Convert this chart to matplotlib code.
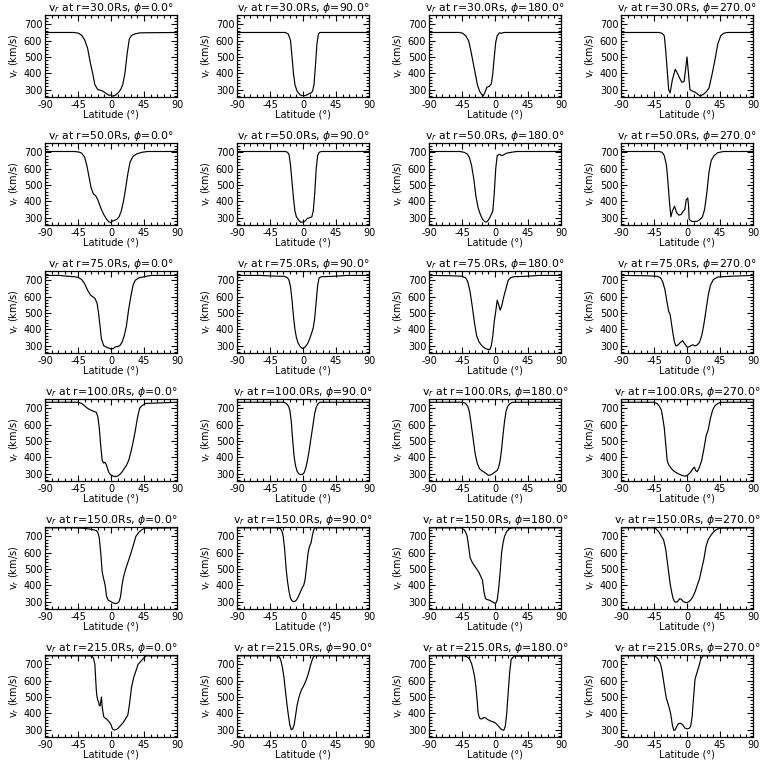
import matplotlib
matplotlib.use("Agg")
import matplotlib.pyplot as plt
from matplotlib.ticker import AutoMinorLocator

radii = [30.0, 50.0, 75.0, 100.0, 150.0, 215.0]
phis = [0.0, 90.0, 180.0, 270.0]
x_ticks = [-90, -45, 0, 45, 90]
y_ticks = [300, 400, 500, 600, 700]
y_range = [255, 757]

# r = 30 Rs
lat_r30_p0 = [-90,-50,-44,-40,-36,-32,-28,-25,-22,-18,-12,-7,-3,0,2,6,10,13,16,19,22,25,28,33,40,90]
v_r30_p0 = [650,650,645,632,605,555,460,400,330,300,293,278,265,268,260,265,282,300,330,400,520,610,632,642,648,650]
lat_r30_p90 = [-90,-24,-20,-17,-15,-13,-11,-8,-4,0,4,8,11,13,15,17,19,21,23,26,90]
v_r30_p90 = [650,650,640,600,500,400,330,290,268,262,265,275,280,290,330,450,580,640,650,650,650]
lat_r30_p180 = [-90,-48,-44,-40,-36,-33,-30,-27,-24,-21,-18,-16,-14,-11,-8,-5,-3,-1,1,3,6,9,12,15,90]
v_r30_p180 = [650,650,645,630,600,540,470,400,330,290,270,262,280,315,320,335,400,500,590,630,648,645,650,650,650]
lat_r30_p270 = [-90,-38,-34,-31,-29,-27,-25,-23,-20,-16,-13,-10,-7,-4,-2,0,2,4,7,11,15,18,22,26,30,34,38,42,46,50,55,90]
v_r30_p270 = [650,650,645,630,540,420,300,280,360,425,400,370,345,350,420,500,400,300,292,285,270,262,270,285,310,390,480,580,630,645,650,650]

# r = 50 Rs
lat_r50_p0 = [-90,-50,-44,-40,-36,-33,-30,-27,-24,-21,-18,-14,-10,-6,-3,0,2,5,8,11,14,17,20,23,26,30,35,42,50,90]
v_r50_p0 = [705,705,702,695,670,620,550,480,445,435,410,360,320,290,275,268,280,283,290,305,340,400,480,570,640,675,690,700,705,705]
lat_r50_p90 = [-90,-24,-21,-19,-17,-15,-13,-11,-9,-6,-3,0,3,6,9,12,14,16,18,20,22,25,90]
v_r50_p90 = [705,705,700,685,620,520,420,340,305,285,272,272,280,295,300,305,340,450,600,680,700,705,705]
lat_r50_p180 = [-90,-48,-42,-38,-35,-32,-29,-26,-23,-20,-17,-14,-12,-9,-6,-3,-1,1,3,6,9,12,16,22,30,90]
v_r50_p180 = [705,705,700,690,670,620,540,430,360,320,290,275,272,285,310,340,450,600,680,688,680,685,695,700,705,705]
lat_r50_p270 = [-90,-38,-34,-31,-28,-26,-24,-22,-20,-17,-14,-11,-8,-5,-3,-1,1,2,3,6,10,14,18,21,24,27,30,33,37,42,50,90]
v_r50_p270 = [705,705,700,680,620,520,400,305,340,370,330,315,320,340,350,410,420,380,290,278,276,278,290,305,350,450,580,650,680,698,705,705]

# r = 75 Rs
lat_r75_p0 = [-90,-70,-60,-50,-45,-40,-36,-32,-28,-25,-22,-19,-17,-15,-13,-10,-6,-3,0,3,6,9,12,15,18,21,24,27,30,33,38,45,55,90]
v_r75_p0 = [730,730,725,722,718,705,680,640,610,600,590,560,500,420,340,300,290,285,280,282,293,295,300,320,360,420,520,600,670,700,715,722,730,730]
lat_r75_p90 = [-90,-60,-40,-25,-21,-19,-17,-15,-13,-11,-9,-7,-4,-1,1,3,6,9,12,14,16,18,20,22,25,40,60,90]
v_r75_p90 = [730,730,726,724,715,700,660,580,480,400,350,320,295,283,285,292,310,340,380,410,470,570,670,715,722,724,730,730]
lat_r75_p180 = [-90,-60,-45,-40,-37,-34,-31,-28,-25,-22,-19,-16,-13,-10,-7,-5,-3,-1,1,3,5,7,9,12,15,18,21,25,40,60,90]
v_r75_p180 = [730,728,725,715,690,630,540,440,360,325,305,292,282,278,276,300,360,450,510,578,550,518,540,600,650,700,715,722,724,730,730]
lat_r75_p270 = [-90,-55,-40,-36,-33,-30,-27,-25,-23,-21,-19,-17,-15,-12,-9,-6,-3,0,3,5,8,11,14,17,20,23,26,29,32,36,42,60,90]
v_r75_p270 = [730,728,724,715,690,640,560,510,490,430,370,320,298,305,320,330,310,292,292,300,305,298,305,320,360,430,520,610,670,705,720,725,730]

# r = 100 Rs
lat_r100_p0 = [-90,-45,-40,-36,-32,-28,-24,-20,-18,-16,-14,-12,-10,-8,-6,-4,-2,0,3,6,9,12,15,18,21,24,27,30,33,36,39,42,47,90]
v_r100_p0 = [737,737,730,715,700,690,682,675,650,580,470,380,365,370,350,320,300,292,285,282,285,295,310,330,350,380,430,490,560,640,700,715,730,737]
lat_r100_p90 = [-90,-26,-23,-20,-18,-16,-14,-12,-10,-8,-6,-4,-2,0,2,4,6,8,10,12,14,16,18,20,23,90]
v_r100_p90 = [737,737,730,715,690,620,500,400,345,315,300,295,295,298,310,340,380,430,490,550,610,670,705,725,737,737]
lat_r100_p180 = [-90,-44,-40,-37,-35,-33,-30,-27,-24,-21,-18,-15,-12,-9,-6,-3,0,3,5,7,9,11,13,15,17,20,24,90]
v_r100_p180 = [737,737,730,710,680,620,520,420,360,330,318,310,300,290,292,300,310,320,340,380,450,540,620,680,710,728,737,737]
lat_r100_p270 = [-90,-45,-41,-38,-35,-33,-31,-29,-27,-25,-22,-19,-16,-13,-10,-7,-4,-1,2,5,8,10,12,14,17,20,23,26,29,32,35,38,42,47,90]
v_r100_p270 = [737,737,730,715,690,640,580,480,380,355,335,320,310,302,295,290,286,285,295,310,330,340,318,312,340,380,450,530,570,640,690,715,730,737,737]

# r = 150 Rs
lat_r150_p0 = [-90,-50,-40,-30,-24,-20,-18,-16,-14,-12,-10,-8,-6,-4,-2,0,3,6,9,11,13,15,17,20,23,26,30,34,38,42,46,90]
v_r150_p0 = [752,752,750,745,740,735,725,690,600,480,440,400,330,310,305,300,292,288,292,300,330,400,450,500,540,580,640,700,725,740,750,752]
lat_r150_p90 = [-90,-35,-31,-29,-27,-25,-23,-21,-19,-17,-15,-13,-11,-9,-7,-5,-3,-1,1,3,5,7,9,11,13,15,17,90]
v_r150_p90 = [752,752,748,735,700,620,500,420,360,320,305,300,302,310,325,345,365,385,400,440,520,600,640,660,710,745,752,752]
lat_r150_p180 = [-90,-46,-42,-40,-38,-36,-34,-31,-28,-25,-22,-19,-17,-15,-13,-10,-7,-4,-1,1,3,5,7,9,11,13,16,20,25,90]
v_r150_p180 = [752,752,740,725,700,640,570,540,520,500,480,450,430,360,318,312,308,300,292,290,310,380,480,600,660,700,730,748,752,752]
lat_r150_p270 = [-90,-46,-42,-38,-35,-32,-29,-27,-25,-23,-21,-19,-17,-14,-12,-10,-8,-5,-2,0,2,5,8,11,14,17,20,23,26,29,33,38,44,90]
v_r150_p270 = [752,752,745,725,700,680,620,550,480,410,360,320,300,296,305,318,315,300,295,295,298,310,330,360,400,440,500,560,640,680,710,735,750,752]

# r = 215 Rs
lat_r215_p0 = [-90,-30,-26,-24,-22,-21,-20,-19,-18,-17,-16,-15,-14,-13,-12,-10,-8,-6,-4,-2,0,2,4,7,10,13,16,19,21,23,25,28,31,34,37,41,45,48,90]
v_r215_p0 = [752,752,750,740,700,620,540,500,480,470,450,445,470,500,440,380,370,365,355,345,330,305,298,300,310,325,340,360,375,390,450,560,620,660,700,720,740,752,752]
lat_r215_p90 = [-90,-36,-32,-30,-28,-26,-24,-22,-20,-18,-16,-14,-12,-10,-8,-6,-4,-2,0,2,4,6,8,10,12,14,16,90]
v_r215_p90 = [752,752,745,720,680,620,540,460,390,330,300,305,330,390,450,490,520,545,560,580,600,625,655,690,720,745,752,752]
lat_r215_p180 = [-90,-42,-38,-35,-32,-30,-28,-26,-24,-23,-21,-19,-17,-15,-13,-10,-7,-4,-1,2,5,8,10,12,14,16,18,20,22,26,90]
v_r215_p180 = [752,752,745,735,705,670,630,560,460,400,370,365,368,375,372,362,355,350,345,335,320,305,298,296,320,400,530,650,730,750,752]
lat_r215_p270 = [-90,-46,-42,-39,-36,-34,-32,-30,-28,-26,-24,-22,-20,-18,-16,-14,-12,-9,-6,-3,0,3,5,7,9,11,13,15,17,19,22,90]
v_r215_p270 = [752,752,745,730,700,660,600,540,490,460,430,390,330,295,300,320,335,340,330,310,305,308,320,380,500,610,640,670,700,735,752,752]

lats = [
    [lat_r30_p0, lat_r30_p90, lat_r30_p180, lat_r30_p270],
    [lat_r50_p0, lat_r50_p90, lat_r50_p180, lat_r50_p270],
    [lat_r75_p0, lat_r75_p90, lat_r75_p180, lat_r75_p270],
    [lat_r100_p0, lat_r100_p90, lat_r100_p180, lat_r100_p270],
    [lat_r150_p0, lat_r150_p90, lat_r150_p180, lat_r150_p270],
    [lat_r215_p0, lat_r215_p90, lat_r215_p180, lat_r215_p270],
]
vels = [
    [v_r30_p0, v_r30_p90, v_r30_p180, v_r30_p270],
    [v_r50_p0, v_r50_p90, v_r50_p180, v_r50_p270],
    [v_r75_p0, v_r75_p90, v_r75_p180, v_r75_p270],
    [v_r100_p0, v_r100_p90, v_r100_p180, v_r100_p270],
    [v_r150_p0, v_r150_p90, v_r150_p180, v_r150_p270],
    [v_r215_p0, v_r215_p90, v_r215_p180, v_r215_p270],
]

plt.rcParams['font.family'] = ['DejaVu Sans']
plt.rcParams['axes.unicode_minus'] = False
fig = plt.figure(figsize=(7.68, 7.68), dpi=100)
W = H = 768.0
for i, r in enumerate(radii):
    for j, ph in enumerate(phis):
        left = (192 * j + 45) / W
        bottom = 1 - (128 * i + 97) / H
        ax = fig.add_axes([left, bottom, 132 / W, 82 / H])
        ax.plot(lats[i][j], vels[i][j], color='black', lw=0.85)
        ax.set_xlim(-90, 90)
        ax.set_ylim(*y_range)
        ax.set_xticks(x_ticks)
        ax.set_yticks(y_ticks)
        ax.xaxis.set_minor_locator(AutoMinorLocator(5))
        ax.yaxis.set_minor_locator(AutoMinorLocator(5))
        ax.tick_params(which='both', direction='in', top=True, right=True,
                       labelsize=7, width=0.8, pad=2)
        ax.tick_params(which='major', length=4)
        ax.tick_params(which='minor', length=2)
        for s in ax.spines.values():
            s.set_linewidth(0.9)
        ax.set_title(r"v$_r$ at r=%.1fRs, $\phi$=%.1f°" % (r, ph), fontsize=7.8, pad=2)
        ax.set_ylabel(r"v$_r$ (km/s)", fontsize=7, labelpad=2)
        ax.set_xlabel("Latitude (°)", fontsize=7, labelpad=0)

fig.savefig("out.png", dpi=100, facecolor='white')
